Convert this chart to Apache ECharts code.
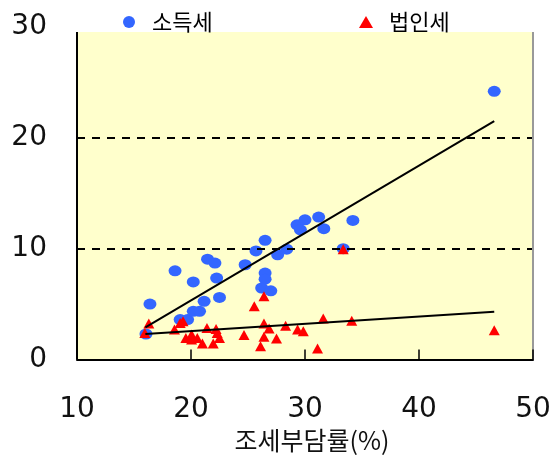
<!DOCTYPE html>
<html>
<head>
<meta charset="utf-8">
<script src="https://cdn.jsdelivr.net/npm/echarts@6/dist/echarts.min.js"></script>
<style>
html,body{margin:0;padding:0;background:#fff;}
#chart{width:552px;height:455px;}
</style>
</head>
<body>
<div id="chart"></div>
<script>
// ---- data ----
const seriesNames = ['소득세', '법인세'];
const xAxisTitle = '조세부담률(%)';
const incomeTax = [
  [16.05,2.3],[16.4,5.0],[18.6,8.0],[19.05,3.6],[19.7,3.6],[20.2,7.0],[20.2,4.35],
  [20.75,4.35],[21.15,5.25],[21.45,9.05],[22.1,8.7],[22.25,7.35],[22.5,5.6],
  [24.75,8.55],[25.7,9.8],[26.5,10.75],[26.5,7.8],[26.5,7.25],[26.2,6.45],[27.0,6.2],
  [27.6,9.45],[28.4,9.95],[29.3,12.15],[30.0,12.6],[29.6,11.7],[31.2,12.85],
  [31.65,11.8],[34.2,12.55],[33.35,10.0],[46.6,24.2]
];
const corporateTax = [
  [16.3,3.25],[15.95,2.4],[18.55,2.7],[19.05,3.3],[19.3,3.45],[19.55,1.95],[20.05,2.25],
  [20.05,1.8],[20.55,1.95],[21.0,1.45],[21.4,2.85],[21.95,1.45],[22.2,2.75],[22.3,2.4],
  [22.5,1.95],[24.65,2.2],[25.55,4.8],[26.4,5.7],[26.4,3.25],[26.4,2.05],[26.1,1.2],
  [26.85,2.8],[27.5,1.9],[28.3,3.05],[29.35,2.7],[29.85,2.55],[31.1,1.0],[31.6,3.7],
  [34.1,3.5],[33.35,9.95],[46.6,2.65]
];
const incomeTrend = [[16.0,2.9],[46.6,21.5]];
const corporateTrend = [[16.0,2.3],[46.6,4.3]];
const refLevels = [10, 20];
const xRange = [10, 50];
const yRange = [0, 30];
const plotTop = 29.55;

// ---- chart ----
const chart = echarts.init(document.getElementById('chart'), null, {renderer:'canvas'});
const numFont = 'DejaVu Sans';
const krFont = '"Noto Sans CJK KR", sans-serif';
const legendText = {fontFamily: krFont, fontSize: 22, color: '#000', padding: [0,0,0,11]};
const option = {
  animation: false,
  backgroundColor: '#ffffff',
  grid: {left: 77, right: 19, top: 27, bottom: 95.5, show: false, outerBoundsMode: 'none', containLabel: false},
  legend: [
    {data: [seriesNames[0]], left: 118, top: 6, itemWidth: 14, itemHeight: 12, itemGap: 0, textStyle: legendText},
    {data: [seriesNames[1]], left: 354, top: 6, itemWidth: 14, itemHeight: 12, itemGap: 0, textStyle: legendText}
  ],
  xAxis: {
    type: 'value', min: xRange[0], max: xRange[1], interval: 10, z: 10,
    name: xAxisTitle, nameLocation: 'middle', nameGap: 57,
    nameTextStyle: {fontFamily: krFont, fontSize: 25, color: '#111', padding: [0,0,0,14]},
    axisLine: {show: true, lineStyle: {color: '#000', width: 2}},
    axisTick: {show: true, inside: true, length: 10, lineStyle: {color: '#000', width: 1.5}},
    axisLabel: {fontFamily: numFont, fontSize: 28, color: '#111', margin: 36},
    splitLine: {show: false}
  },
  yAxis: {
    type: 'value', min: yRange[0], max: yRange[1], interval: 10,
    axisLine: {show: false}, axisTick: {show: false}, splitLine: {show: false},
    axisLabel: {fontFamily: numFont, fontSize: 28, color: '#111', margin: 30, padding: [5,0,0,0]}
  },
  series: [
    {
      type: 'scatter', data: [], z: 1, silent: true,
      markArea: {silent: true, itemStyle: {color: '#FFFFCC'},
        data: [[{coord: [xRange[0], yRange[0]]}, {coord: [xRange[1], plotTop]}]]}
    },
    {
      type: 'scatter', data: [], z: 1.5, silent: true,
      markLine: {silent: true, symbol: 'none', label: {show: false}, animation: false,
        data: [
          ...refLevels.map(v => ({yAxis: v, lineStyle: {color: '#000', width: 2, type: [8, 7]}})),
          [{coord: [xRange[0], yRange[0]], lineStyle: {color: '#000', width: 2, type: 'solid'}}, {coord: [xRange[0], plotTop]}],
          [{coord: [xRange[1], yRange[0]], lineStyle: {color: '#999', width: 2, type: 'solid'}}, {coord: [xRange[1], plotTop]}]
        ]}
    },
    {
      name: seriesNames[0], type: 'scatter', data: incomeTax, z: 3,
      symbol: 'circle', symbolSize: [13, 11],
      itemStyle: {color: '#3366FF', opacity: 1}
    },
    {
      name: seriesNames[1], type: 'scatter', data: corporateTax, z: 4,
      symbol: 'triangle', symbolSize: [11, 10],
      itemStyle: {color: '#FF0000', opacity: 1}
    },
    {
      type: 'line', data: incomeTrend, z: 5, showSymbol: false, silent: true,
      lineStyle: {color: '#000', width: 2}
    },
    {
      type: 'line', data: corporateTrend, z: 5, showSymbol: false, silent: true,
      lineStyle: {color: '#000', width: 2}
    }
  ]
};
chart.setOption(option);
</script>
</body>
</html>
